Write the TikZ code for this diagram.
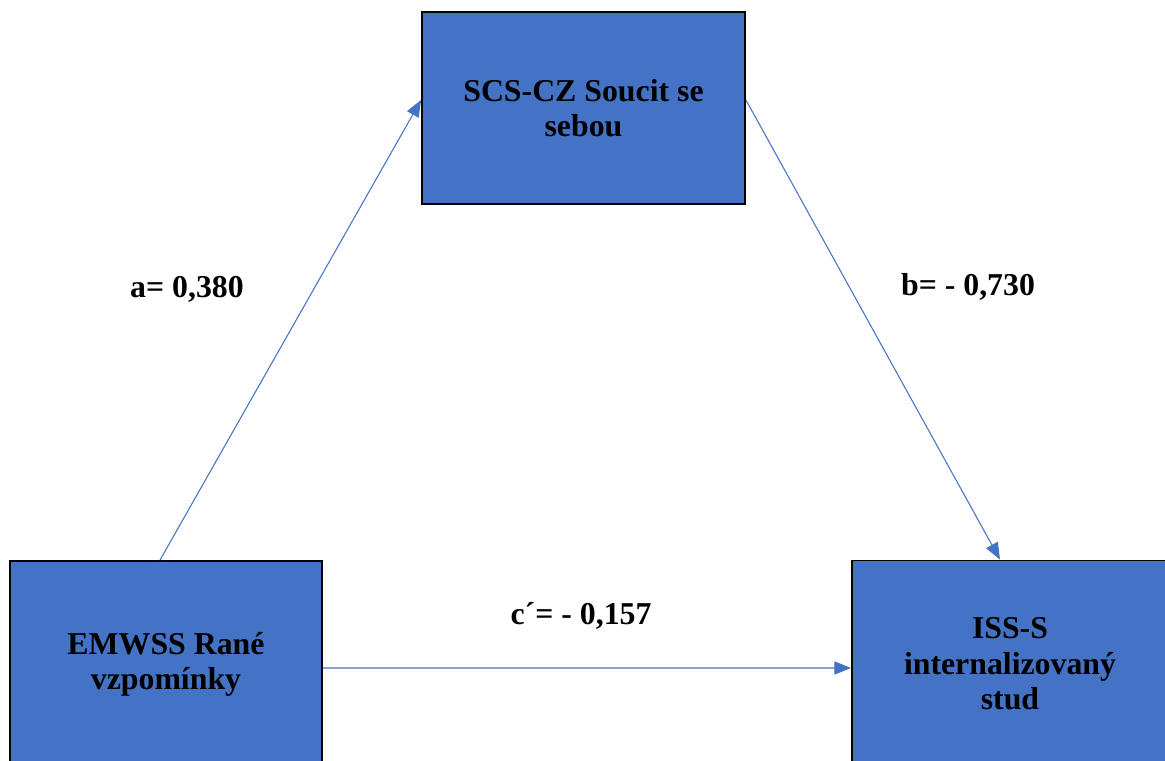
\documentclass[tikz,border=0pt]{standalone}
\usepackage{fontspec}
\setmainfont{Liberation Serif}
\usepackage{xcolor}
\usetikzlibrary{arrows.meta,calc,positioning}
\definecolor{boxblue}{HTML}{4472C4}
\tikzset{
  >=stealth,
  line cap=round,
  line join=round,
  varbox/.style={draw=black, line width=1.1pt, fill=boxblue, align=center,
    font=\bfseries\fontsize{18.1}{20.2}\selectfont, inner sep=0pt},
  link/.style={-{Triangle[length=9.5pt,width=7.5pt]}, draw=boxblue, line width=0.6pt, line cap=butt},
  coef/.style={font=\bfseries\fontsize{18.1}{19.8}\selectfont, inner sep=0pt}
}
\begin{document}
\begin{tikzpicture}[x=0.02cm,y=-0.02cm]
    \useasboundingbox (0,0) rectangle (1165,760);
    \clip (0,0) rectangle (1165,760);

    % variables
    \node[varbox, minimum width=6.46cm, minimum height=3.84cm] (scs) at (583.5,108) {SCS-CZ Soucit se\\sebou};
    \node[varbox, minimum width=6.24cm, minimum height=4.14cm] (emwss) at (166,664.5) {EMWSS Rané\\vzpomínky};
    \node[varbox, minimum width=6.32cm, minimum height=4.14cm] (iss) at (1010,664) {ISS-S\\internalizovaný\\stud};

    % paths
    \draw[link] ($(emwss.north)+(-6,0)$) -- ($(scs.west)+(0,-8)$);
    \draw[link] ($(scs.east)+(0,-8)$) -- ($(iss.north)+(-10,0)$);
    \draw[link] ($(emwss.east)+(0,3.5)$) -- ($(iss.west)+(0,4)$);

    % coefficients
    \node[coef] (a) at (187,289) {a= 0,380};
    \node[coef] (b) at (968,287) {b= - 0,730};
    \node[coef] (c) at (581,616) {c´= - 0,157};
\end{tikzpicture}
\end{document}
